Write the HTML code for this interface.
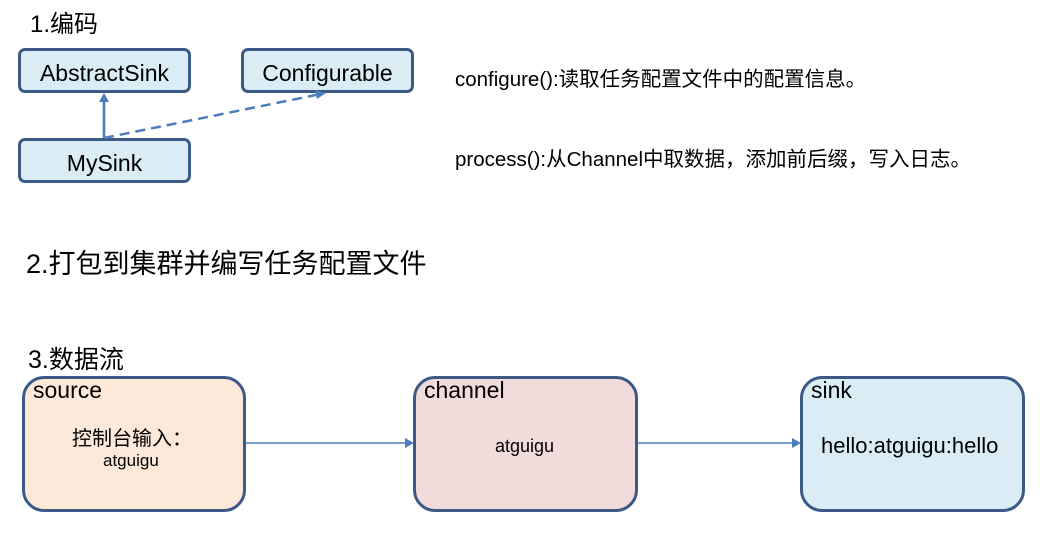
<!DOCTYPE html>
<html><head><meta charset="utf-8"><style>
body{margin:0;width:1057px;height:547px;background:#fff;position:relative;overflow:hidden;font-family:"Liberation Sans","Noto Sans CJK SC",sans-serif;color:#000}
.t{position:absolute;white-space:nowrap}
.b{position:absolute;box-sizing:border-box;border:3px solid #3c5a86;background:#dbedf4;border-radius:7px;text-align:center;font-size:23px;line-height:44px}
.big{position:absolute;box-sizing:border-box;border:3px solid #3c5a86;border-radius:22px}
.lbl{position:absolute;left:8px;top:-2px;font-size:23px}
</style></head><body>
<div class="t" style="left:30px;top:4px;font-size:24px">1.编码</div>
<div class="b" style="left:18px;top:48px;width:173px;height:45px">AbstractSink</div>
<div class="b" style="left:241px;top:48px;width:173px;height:45px">Configurable</div>
<div class="b" style="left:18px;top:138px;width:173px;height:45px">MySink</div>
<div class="t" style="left:455px;top:62px;font-size:20.5px">configure():读取任务配置文件中的配置信息。</div>
<div class="t" style="left:455px;top:142px;font-size:20.5px">process():从Channel中取数据，添加前后缀，写入日志。</div>
<div class="t" style="left:26px;top:242px;font-size:27px">2.打包到集群并编写任务配置文件</div>
<div class="t" style="left:28px;top:340px;font-size:25px">3.数据流</div>
<div class="big" style="left:22px;top:376px;width:224px;height:136px;background:#fde9d9"><div class="lbl">source</div>
<div class="t" style="left:47px;top:43px;font-size:20px">控制台输入：</div>
<div class="t" style="left:78px;top:72px;font-size:17px">atguigu</div></div>
<div class="big" style="left:413px;top:376px;width:225px;height:136px;background:#f2dcdb"><div class="lbl">channel</div>
<div class="t" style="left:79px;top:57px;font-size:18px">atguigu</div></div>
<div class="big" style="left:800px;top:376px;width:225px;height:136px;background:#dbedf4"><div class="lbl">sink</div>
<div class="t" style="left:18px;top:54px;font-size:22px">hello:atguigu:hello</div></div>
<svg width="1057" height="547" style="position:absolute;left:0;top:0">
<g stroke="#4a7ebb" stroke-width="2.5" fill="#4a7ebb">
<line x1="104" y1="138" x2="104" y2="100"/>
<polygon points="104,93 99,102 109,102" stroke="none"/>
<line x1="104" y1="138" x2="316" y2="95" stroke-dasharray="10,6"/>
<polygon points="326,93 315,90 317,99" stroke="none"/>
<line x1="246" y1="443" x2="406" y2="443" stroke-width="1.5"/>
<polygon points="414,443 405,438 405,448" stroke="none"/>
<line x1="638" y1="443" x2="793" y2="443" stroke-width="1.5"/>
<polygon points="801,443 792,438 792,448" stroke="none"/>
</g></svg>
</body></html>
